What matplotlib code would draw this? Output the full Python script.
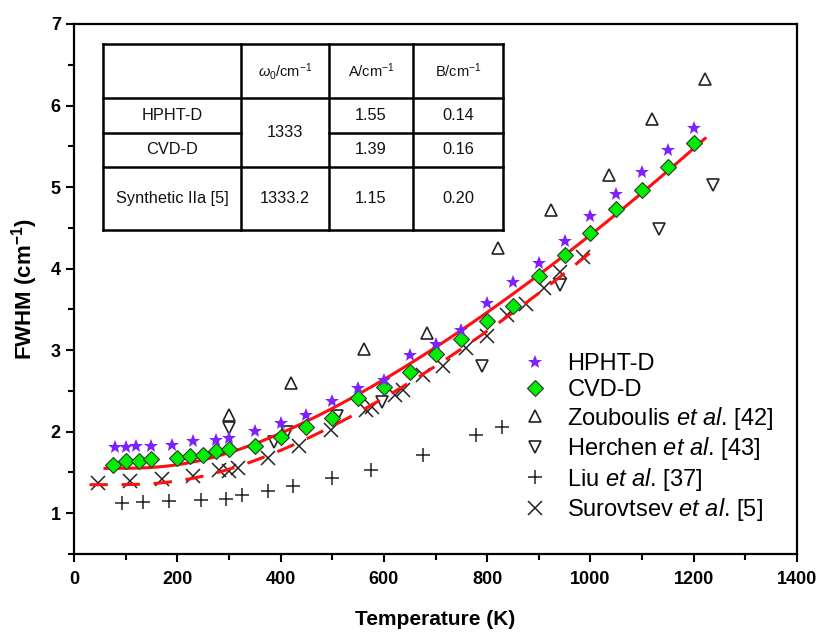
import numpy as np
import matplotlib
matplotlib.use("Agg")
import matplotlib.pyplot as plt
from matplotlib.lines import Line2D
from matplotlib.ticker import MultipleLocator

plt.rcParams['font.family'] = ['Liberation Sans', 'DejaVu Sans']
plt.rcParams['mathtext.fontset'] = 'custom'
plt.rcParams['mathtext.rm'] = 'Liberation Sans'
plt.rcParams['mathtext.it'] = 'Liberation Sans:italic'
plt.rcParams['mathtext.bf'] = 'Liberation Sans:bold'

hpht_T = [80, 100, 120, 150, 190, 230, 275, 300, 350, 400, 450, 500, 550, 600, 650,
          700, 750, 800, 850, 900, 950, 1000, 1050, 1100, 1150, 1200]
hpht_w = [1.81, 1.81, 1.82, 1.83, 1.84, 1.89, 1.90, 1.92, 2.01, 2.11, 2.20, 2.38, 2.54, 2.63, 2.94,
          3.08, 3.25, 3.58, 3.83, 4.07, 4.34, 4.64, 4.91, 5.18, 5.45, 5.73]

cvd_T = [75, 100, 125, 150, 200, 225, 250, 275, 300, 350, 400, 450, 500, 550, 600, 650,
         700, 750, 800, 850, 900, 950, 1000, 1050, 1100, 1150, 1200]
cvd_w = [1.59, 1.64, 1.64, 1.66, 1.68, 1.70, 1.71, 1.76, 1.79, 1.83, 1.94, 2.06, 2.17, 2.41, 2.55, 2.73,
         2.95, 3.14, 3.36, 3.54, 3.91, 4.17, 4.44, 4.73, 4.97, 5.25, 5.54]

zoub_T = [300, 420, 562, 683, 821, 923, 1036, 1119, 1222]
zoub_w = [2.20, 2.60, 3.02, 3.21, 4.25, 4.72, 5.15, 5.84, 6.32]

herch_T = [300, 387, 412, 509, 596, 790, 941, 1132, 1238]
herch_w = [2.04, 1.87, 2.00, 2.19, 2.37, 2.80, 3.80, 4.48, 5.02]

liu_T = [92, 133, 184, 245, 294, 325, 376, 425, 500, 576, 676, 778, 829]
liu_w = [1.13, 1.14, 1.15, 1.16, 1.17, 1.22, 1.27, 1.33, 1.43, 1.53, 1.71, 1.96, 2.06]

surov_T = [47, 108, 170, 231, 280, 301, 317, 375, 435, 497, 565, 578, 622, 638, 676,
           715, 759, 799, 839, 876, 910, 942, 986]
surov_w = [1.37, 1.40, 1.42, 1.46, 1.53, 1.52, 1.56, 1.68, 1.83, 2.02, 2.27, 2.30, 2.45, 2.51, 2.69,
           2.81, 3.03, 3.17, 3.43, 3.56, 3.76, 3.96, 4.14]

# fit parameters (table)
tab_names = ["HPHT-D", "CVD-D", "Synthetic IIa [5]"]
tab_w0 = ["1333", "1333", "1333.2"]
tab_A = [1.55, 1.39, 1.15]
tab_B = [0.14, 0.16, 0.20]


def balkanski(T, w0, A, B):
    # anharmonic decay model, hc/k = 1.4388 cm K
    x = 1.4388 * w0 / (2 * T)
    y = 1.4388 * w0 / (3 * T)
    n2 = 1 / (np.exp(x) - 1)
    n3 = 1 / (np.exp(y) - 1)
    return A * (1 + 2 * n2) + B * (1 + 3 * n3 + 3 * n3 ** 2)


W, H = 826, 632
fig = plt.figure(figsize=(W / 100, H / 100), dpi=100)
ax = fig.add_axes([74 / W, 1 - 554 / H, (797 - 74) / W, (554 - 24) / H])


def px(x, y):
    return x / W, 1 - y / H


T1 = np.linspace(60, 1222, 300)
ax.plot(T1, balkanski(T1, 1333, tab_A[1], tab_B[1]), color='#ff1010', lw=2.2, zorder=3)
T2 = np.linspace(30, 1006, 300)
ax.plot(T2, balkanski(T2, 1333.2, tab_A[2], tab_B[2]), color='#ff1010', lw=2.2,
        dashes=(6, 4.5), zorder=3)

ax.plot(surov_T, surov_w, 'x', color='#222222', ms=10, mew=1.1, ls='none', zorder=2)
ax.plot(liu_T, liu_w, '+', color='#222222', ms=10, mew=1.1, ls='none', zorder=2)
ax.plot(zoub_T, zoub_w, '^', mfc='none', mec='#222222', ms=9, mew=1.2, ls='none', zorder=2)
ax.plot(herch_T, herch_w, 'v', mfc='none', mec='#222222', ms=9, mew=1.2, ls='none', zorder=2)
ax.plot(cvd_T, cvd_w, 'D', mfc='#00ee00', mec='#333333', ms=8, mew=0.8, ls='none', zorder=4)
ax.plot(hpht_T, hpht_w, '*', color='#7b22ff', ms=10, mew=0, ls='none', zorder=5)

ax.set_xlim(0, 1400)
ax.set_ylim(0.5, 7)
ax.xaxis.set_major_locator(MultipleLocator(200))
ax.xaxis.set_minor_locator(MultipleLocator(100))
ax.yaxis.set_major_locator(MultipleLocator(1))
ax.yaxis.set_minor_locator(MultipleLocator(0.5))
ax.tick_params(which='both', direction='out', width=1.5, top=False, right=False)
ax.tick_params(which='major', length=6, labelsize=13)
ax.tick_params(which='minor', length=4)
ax.tick_params(axis='x', pad=6)
for lab in ax.get_xticklabels() + ax.get_yticklabels():
    lab.set_fontweight('bold')
for s in ax.spines.values():
    s.set_linewidth(1.6)
ax.set_xlabel('Temperature (K)', fontsize=15, fontweight='bold', labelpad=16)
ax.set_ylabel(r'FWHM (cm$^{\mathbf{-1}}$)', fontsize=16, fontweight='bold', labelpad=8)

# legend
labels = ["HPHT-D", "CVD-D", r"Zouboulis $\it{et\ al}$. [42]", r"Herchen $\it{et\ al}$. [43]",
          r"Liu $\it{et\ al}$. [37]", r"Surovtsev $\it{et\ al}$. [5]"]
handles = [
    Line2D([], [], marker='*', color='#7b22ff', ms=10, mew=0, ls='none'),
    Line2D([], [], marker='D', mfc='#00ee00', mec='#333333', ms=8, mew=0.8, ls='none'),
    Line2D([], [], marker='^', mfc='none', mec='#222222', ms=8, mew=1.2, ls='none'),
    Line2D([], [], marker='v', mfc='none', mec='#222222', ms=8, mew=1.2, ls='none'),
    Line2D([], [], marker='+', color='#222222', ms=10, mew=1.1, ls='none'),
    Line2D([], [], marker='x', color='#222222', ms=10, mew=1.1, ls='none'),
]
ax.legend(handles, labels, loc='upper left', bbox_to_anchor=px(514, 344),
          bbox_transform=fig.transFigure, frameon=False, fontsize=17,
          handlelength=1.0, handletextpad=0.86, labelspacing=0.15, borderaxespad=0)

# parameter table
xs = [103, 241, 329, 413, 503]
ys = [44, 98, 133, 167, 230]
lw_t = 1.8
for x in xs:
    fig.add_artist(Line2D(*zip(px(x, ys[0]), px(x, ys[-1])), color='black', lw=lw_t))
for i, y in enumerate(ys):
    if i == 2:
        segs = [(xs[0], xs[1]), (xs[2], xs[4])]
    else:
        segs = [(xs[0], xs[4])]
    for a, b in segs:
        fig.add_artist(Line2D(*zip(px(a, y), px(b, y)), color='black', lw=lw_t))


def cell(text, c0, c1, r0, r1, size=11.8):
    x = (xs[c0] + xs[c1]) / 2
    y = (ys[r0] + ys[r1]) / 2
    fig.text(*px(x, y), text, ha='center', va='center', fontsize=size, color='#111111')


cell(r'$\omega_0$/cm$^{-1}$', 1, 2, 0, 1, 10.5)
cell(r'A/cm$^{-1}$', 2, 3, 0, 1, 10.5)
cell(r'B/cm$^{-1}$', 3, 4, 0, 1, 10.5)
cell(tab_names[0], 0, 1, 1, 2)
cell(tab_names[1], 0, 1, 2, 3)
cell(tab_names[2], 0, 1, 3, 4)
cell(tab_w0[0], 1, 2, 1, 3)
cell(tab_w0[2], 1, 2, 3, 4)
for r in range(3):
    cell(f"{tab_A[r]:.2f}", 2, 3, r + 1, r + 2)
    cell(f"{tab_B[r]:.2f}", 3, 4, r + 1, r + 2)

fig.savefig('out.png', dpi=100)
